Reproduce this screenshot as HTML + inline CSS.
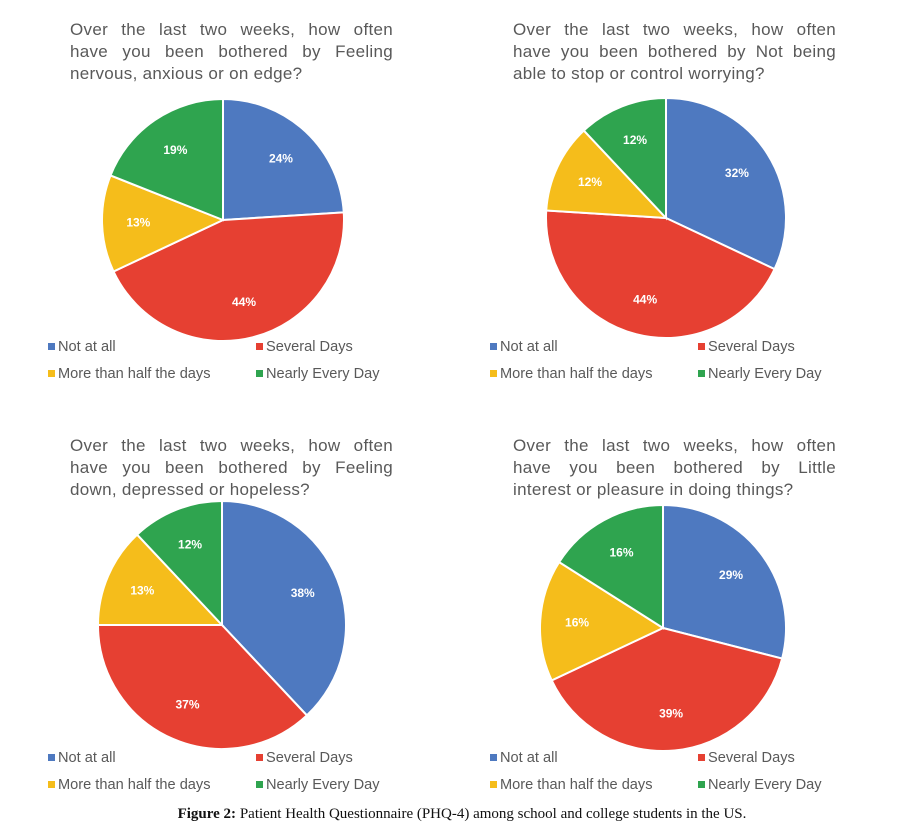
<!DOCTYPE html>
<html><head><meta charset="utf-8">
<style>
body{margin:0;background:#fff;width:914px;height:835px;position:relative;overflow:hidden;font-family:"Liberation Sans",sans-serif}
.title{position:absolute;width:323px;font-size:17px;line-height:22px;color:#595959;letter-spacing:0.3px}
.title span{display:block;text-align:justify;text-align-last:justify;white-space:nowrap}
.title span:last-child{text-align-last:left}
.leg{position:absolute;font-size:14.6px;color:#595959;white-space:nowrap}
.leg i{display:inline-block;width:7px;height:7px;margin-right:3px;vertical-align:1px}
#cap{position:absolute;left:0;width:914px;top:806px;text-align:center;font-family:"Liberation Serif",serif;font-size:15px;color:#111;padding-left:10px;box-sizing:border-box}
svg{position:absolute;left:0;top:0}
</style></head><body>
<svg id="svg" width="914" height="835"></svg>
<div class="title" style="left:70px;top:19px"><span>Over the last two weeks, how often</span><span>have you been bothered by Feeling</span><span>nervous, anxious or on edge?</span></div>
<div class="title" style="left:513px;top:19px"><span>Over the last two weeks, how often</span><span>have you been bothered by Not being</span><span>able to stop or control worrying?</span></div>
<div class="title" style="left:70px;top:435px"><span>Over the last two weeks, how often</span><span>have you been bothered by Feeling</span><span>down, depressed or hopeless?</span></div>
<div class="title" style="left:513px;top:435px"><span>Over the last two weeks, how often</span><span>have you been bothered by Little</span><span>interest or pleasure in doing things?</span></div>
<div id="legends"></div>
<div id="cap"><b>Figure 2:</b> Patient Health Questionnaire (PHQ-4) among school and college students in the US.</div>
<script>
const categories=["Not at all","Several Days","More than half the days","Nearly Every Day"];
const colors=["#4e79c0","#e64032","#f5bd1b","#2fa44f"];
const chart1Values=[24,44,13,19];
const chart2Values=[32,44,12,12];
const chart3Values=[38,37,13,12];
const chart4Values=[29,39,16,16];
const allValues=[chart1Values,chart2Values,chart3Values,chart4Values];
const geo=[{cx:223,cy:220,r:121,lx:48,ly:339},{cx:666,cy:218,r:120,lx:490,ly:339},{cx:222,cy:625,r:124,lx:48,ly:750},{cx:663,cy:628,r:123,lx:490,ly:750}];
const NS="http://www.w3.org/2000/svg";
const svg=document.getElementById('svg');
const legs=document.getElementById('legends');
allValues.forEach((vals,ci)=>{
  const g=geo[ci];const tot=vals.reduce((a,b)=>a+b,0);let acc=0;
  vals.forEach((v,i)=>{
    const a0=acc/tot*2*Math.PI;acc+=v;const a1=acc/tot*2*Math.PI;
    const x0=g.cx+g.r*Math.sin(a0),y0=g.cy-g.r*Math.cos(a0);
    const x1=g.cx+g.r*Math.sin(a1),y1=g.cy-g.r*Math.cos(a1);
    const p=document.createElementNS(NS,'path');
    p.setAttribute('d',`M${g.cx},${g.cy}L${x0},${y0}A${g.r},${g.r} 0 ${a1-a0>Math.PI?1:0} 1 ${x1},${y1}Z`);
    p.setAttribute('fill',colors[i]);p.setAttribute('stroke','#fff');p.setAttribute('stroke-width','2');
    
    
    svg.appendChild(p);
    const am=(a0+a1)/2,lr=g.r*0.7;
    const t=document.createElementNS(NS,'text');
    t.setAttribute('x',g.cx+lr*Math.sin(am));t.setAttribute('y',g.cy-lr*Math.cos(am)+4);
    t.setAttribute('text-anchor','middle');t.setAttribute('fill','#fff');
    t.setAttribute('font-size','12');t.setAttribute('font-weight','bold');t.setAttribute('font-family','Liberation Sans, sans-serif');
    t.textContent=v+'%';
    
    
    svg.appendChild(t);
  });
  categories.forEach((c,i)=>{
    const d=document.createElement('div');d.className='leg';
    d.style.left=(g.lx+(i%2)*208)+'px';d.style.top=(g.ly+Math.floor(i/2)*27)+'px';
    d.innerHTML=`<i style="background:${colors[i]}"></i>${c}`;
    
    
    legs.appendChild(d);
  });
});
</script>
</body></html>
